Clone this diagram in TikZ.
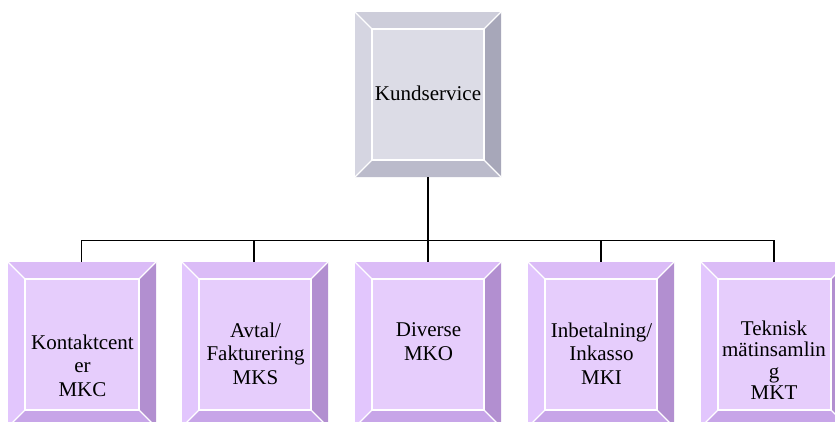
\documentclass[tikz,border=0pt]{standalone}
\usepackage{fontspec}
\setmainfont{Liberation Serif}
\usetikzlibrary{fit}
\definecolor{gF}{HTML}{DCDCE6}
\definecolor{gT}{HTML}{CDCDDA}
\definecolor{gL}{HTML}{D5D5E1}
\definecolor{gR}{HTML}{A7A7B9}
\definecolor{gB}{HTML}{BBBBCB}
\definecolor{pF}{HTML}{E6CDFC}
\definecolor{pT}{HTML}{DBBCF7}
\definecolor{pL}{HTML}{E2C6FD}
\definecolor{pR}{HTML}{B28FD0}
\definecolor{pB}{HTML}{C7A5E8}
\newcommand{\bevbox}[6]{%
  \fill[#6F] (#2+17,#3+17) rectangle (#4-17,#5-17);
  \fill[#6T] (#2,#3) -- (#4,#3) -- (#4-17,#3+17) -- (#2+17,#3+17) -- cycle;
  \fill[#6R] (#4,#3) -- (#4,#5) -- (#4-17,#5-17) -- (#4-17,#3+17) -- cycle;
  \fill[#6B] (#2,#5) -- (#4,#5) -- (#4-17,#5-17) -- (#2+17,#5-17) -- cycle;
  \fill[#6L] (#2,#3) -- (#2,#5) -- (#2+17,#5-17) -- (#2+17,#3+17) -- cycle;
  \draw[bevline] (#2+17,#3+17) rectangle (#4-17,#5-17);
  \draw[bevline] (#2,#3) -- (#2+17,#3+17) (#4,#3) -- (#4-17,#3+17)
                 (#2,#5) -- (#2+17,#5-17) (#4,#5) -- (#4-17,#5-17);
  \node[inner sep=0pt, fit={(#2,#3) (#4,#5)}] (#1) {};
}
\tikzset{
  bevline/.style={white, line width=1.1pt},
  conn/.style={black, line width=1.3pt},
  lbl/.style={inner sep=0pt, anchor=north, align=center, font=\fontsize{21}{23.5}\selectfont}
}
\begin{document}
\begin{tikzpicture}[x=1pt,y=-1pt]
\useasboundingbox (0,0) rectangle (835,421);
\clip (0,0) rectangle (835,421);
\bevbox{top}{355}{12}{501}{177}{g}
\bevbox{b1}{8}{262}{156}{427}{p}
\bevbox{b2}{182}{262}{328}{427}{p}
\bevbox{b3}{355}{262}{501}{427}{p}
\bevbox{b4}{528}{262}{674}{427}{p}
\bevbox{b5}{701}{262}{848}{427}{p}
\node[lbl] (t0) at (428,85.7) {Kundservice};
\node[lbl] (t1) at (82.5,334.7) {Kontaktcent\\er\\MKC};
\node[lbl] (t2) at (255.5,322.7) {Avtal/\\Fakturering\\MKS};
\node[lbl] (t3) at (428.5,322.7) {Diverse\\MKO};
\node[lbl] (t4) at (601.5,322.7) {Inbetalning/\\Inkasso\\MKI};
\node[lbl, font=\fontsize{21}{21.3}\selectfont] (t5) at (774,320.7) {Teknisk\\mätinsamlin\\g\\MKT};
\draw[conn] (top.south) -- ++(0,63) coordinate (hub);
\draw[conn] (hub) -| ([xshift=-0.5pt]b1.north);
\draw[conn] (hub) -| ([xshift=-1pt]b2.north);
\draw[conn] (hub) -- (b3.north);
\draw[conn] (hub) -| (b4.north);
\draw[conn] (hub) -| ([xshift=-0.5pt]b5.north);
\end{tikzpicture}
\end{document}
